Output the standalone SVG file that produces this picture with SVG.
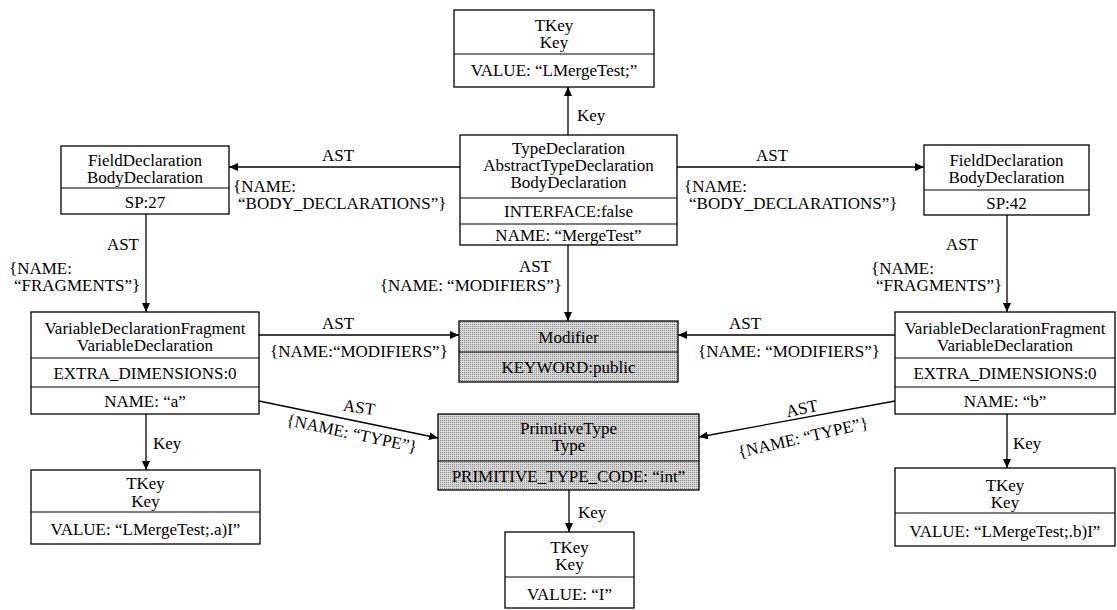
<svg xmlns="http://www.w3.org/2000/svg" width="1117" height="610" viewBox="0 0 1117 610" font-family="'Liberation Serif', 'DejaVu Serif', serif">
<style>
text{font-family:"Liberation Serif","DejaVu Serif",serif;font-size:17px;fill:#000}
.c{text-anchor:middle}
.e{text-anchor:end}
.box{fill:#fff;stroke:#000;stroke-width:1.3}
.gbox{fill:url(#dots);stroke:#000;stroke-width:1.3}
.div{stroke:#000;stroke-width:1.2}
.edge{stroke:#000;stroke-width:1.3;fill:none;marker-end:url(#arr)}
</style>
<defs>
<pattern id="dots" width="2" height="2" patternUnits="userSpaceOnUse">
<rect width="2" height="2" fill="#d8d8d8"/>
<rect width="1" height="1" fill="#8a8a8a"/>
</pattern>
<marker id="arr" markerWidth="9" markerHeight="8" refX="9" refY="4" orient="auto" markerUnits="userSpaceOnUse">
<path d="M0,0 L9,4 L0,8 Z" fill="#000"/>
</marker>
</defs>

<g id="connectors">
<line class="edge" x1="568" y1="135" x2="568" y2="87"/>
<text x="577" y="121">Key</text>

<line class="edge" x1="460" y1="167" x2="229" y2="167"/>
<text class="c" x="338" y="161">AST</text>
<text x="233" y="192">{NAME:</text>
<text x="238" y="209">“BODY_DECLARATIONS”}</text>

<line class="edge" x1="677" y1="167" x2="924" y2="167"/>
<text class="c" x="772" y="161">AST</text>
<text x="684" y="192">{NAME:</text>
<text x="689" y="209">“BODY_DECLARATIONS”}</text>

<line class="edge" x1="146" y1="214" x2="146" y2="312"/>
<text class="e" x="139" y="250">AST</text>
<text x="9" y="274">{NAME:</text>
<text x="14" y="291">“FRAGMENTS”}</text>

<line class="edge" x1="1007" y1="215" x2="1007" y2="312"/>
<text class="e" x="978" y="250">AST</text>
<text x="871" y="274">{NAME:</text>
<text x="876" y="291">“FRAGMENTS”}</text>

<line class="edge" x1="568" y1="245" x2="568" y2="321"/>
<text class="e" x="551" y="272">AST</text>
<text class="e" x="562" y="291">{NAME: “MODIFIERS”}</text>

<line class="edge" x1="259" y1="335" x2="459" y2="335"/>
<text class="c" x="338" y="329">AST</text>
<text x="270" y="357">{NAME:“MODIFIERS”}</text>

<line class="edge" x1="895" y1="335" x2="678" y2="335"/>
<text class="c" x="745" y="329">AST</text>
<text class="c" x="789" y="357">{NAME: “MODIFIERS”}</text>

<line class="edge" x1="259" y1="401" x2="438" y2="438"/>
<text class="c" x="359" y="413" transform="rotate(8 359 408)">AST</text>
<text class="c" x="352" y="439" transform="rotate(12 352 433)">{NAME: “TYPE”}</text>

<line class="edge" x1="895" y1="401" x2="699" y2="437"/>
<text class="c" x="802" y="414" transform="rotate(-12 802 409)">AST</text>
<text class="c" x="803" y="443" transform="rotate(-13 803 437)">{NAME: “TYPE”}</text>

<line class="edge" x1="146" y1="414" x2="146" y2="470"/>
<text x="153" y="449">Key</text>

<line class="edge" x1="1007" y1="414" x2="1007" y2="468"/>
<text x="1013" y="449">Key</text>

<line class="edge" x1="569" y1="490" x2="569" y2="532"/>
<text x="578" y="518">Key</text>
</g>

<g id="tkey-top">
<rect class="box" x="454" y="10" width="200" height="77"/>
<line class="div" x1="454" y1="54" x2="654" y2="54"/>
<text class="c" x="554" y="31">TKey</text>
<text class="c" x="554" y="48">Key</text>
<text class="c" x="554" y="76">VALUE: “LMergeTest;”</text>
</g>

<g id="type-declaration">
<rect class="box" x="460" y="135" width="217" height="110"/>
<line class="div" x1="460" y1="198" x2="677" y2="198"/>
<line class="div" x1="460" y1="224" x2="677" y2="224"/>
<text class="c" x="568.5" y="154">TypeDeclaration</text>
<text class="c" x="568.5" y="171">AbstractTypeDeclaration</text>
<text class="c" x="568.5" y="188">BodyDeclaration</text>
<text class="c" x="568.5" y="217">INTERFACE:false</text>
<text class="c" x="568.5" y="241">NAME: “MergeTest”</text>
</g>

<g id="field-left">
<rect class="box" x="61" y="146" width="168" height="68"/>
<line class="div" x1="61" y1="188" x2="229" y2="188"/>
<text class="c" x="145" y="166">FieldDeclaration</text>
<text class="c" x="145" y="183">BodyDeclaration</text>
<text class="c" x="145" y="208">SP:27</text>
</g>

<g id="field-right">
<rect class="box" x="924" y="145" width="165" height="70"/>
<line class="div" x1="924" y1="190" x2="1089" y2="190"/>
<text class="c" x="1006.5" y="166">FieldDeclaration</text>
<text class="c" x="1006.5" y="183">BodyDeclaration</text>
<text class="c" x="1006.5" y="209">SP:42</text>
</g>

<g id="vdf-left">
<rect class="box" x="31" y="312" width="228" height="102"/>
<line class="div" x1="31" y1="358" x2="259" y2="358"/>
<line class="div" x1="31" y1="387" x2="259" y2="387"/>
<text class="c" x="145" y="334">VariableDeclarationFragment</text>
<text class="c" x="145" y="351">VariableDeclaration</text>
<text class="c" x="145" y="379">EXTRA_DIMENSIONS:0</text>
<text class="c" x="145" y="407">NAME: “a”</text>
</g>

<g id="vdf-right">
<rect class="box" x="895" y="312" width="220" height="102"/>
<line class="div" x1="895" y1="358" x2="1115" y2="358"/>
<line class="div" x1="895" y1="387" x2="1115" y2="387"/>
<text class="c" x="1005" y="334">VariableDeclarationFragment</text>
<text class="c" x="1005" y="351">VariableDeclaration</text>
<text class="c" x="1005" y="379">EXTRA_DIMENSIONS:0</text>
<text class="c" x="1005" y="407">NAME: “b”</text>
</g>

<g id="modifier">
<rect class="gbox" x="459" y="321" width="219" height="61"/>
<line class="div" x1="459" y1="352" x2="678" y2="352"/>
<text class="c" x="568.5" y="343">Modifier</text>
<text class="c" x="568.5" y="373">KEYWORD:public</text>
</g>

<g id="primitive-type">
<rect class="gbox" x="438" y="414" width="261" height="76"/>
<line class="div" x1="438" y1="461" x2="699" y2="461"/>
<text class="c" x="568.5" y="434">PrimitiveType</text>
<text class="c" x="568.5" y="451">Type</text>
<text class="c" x="568.5" y="482">PRIMITIVE_TYPE_CODE: “int”</text>
</g>

<g id="tkey-left">
<rect class="box" x="31" y="470" width="229" height="74"/>
<line class="div" x1="31" y1="512" x2="260" y2="512"/>
<text class="c" x="145.5" y="489">TKey</text>
<text class="c" x="145.5" y="507">Key</text>
<text class="c" x="145.5" y="535">VALUE: “LMergeTest;.a)I”</text>
</g>

<g id="tkey-right">
<rect class="box" x="895" y="468" width="220" height="78"/>
<line class="div" x1="895" y1="513" x2="1115" y2="513"/>
<text class="c" x="1005" y="491">TKey</text>
<text class="c" x="1005" y="508">Key</text>
<text class="c" x="1005" y="537">VALUE: “LMergeTest;.b)I”</text>
</g>

<g id="tkey-bottom">
<rect class="box" x="505" y="532" width="129" height="76"/>
<line class="div" x1="505" y1="577" x2="634" y2="577"/>
<text class="c" x="569.5" y="553">TKey</text>
<text class="c" x="569.5" y="570">Key</text>
<text class="c" x="569.5" y="600">VALUE: “I”</text>
</g>
</svg>
